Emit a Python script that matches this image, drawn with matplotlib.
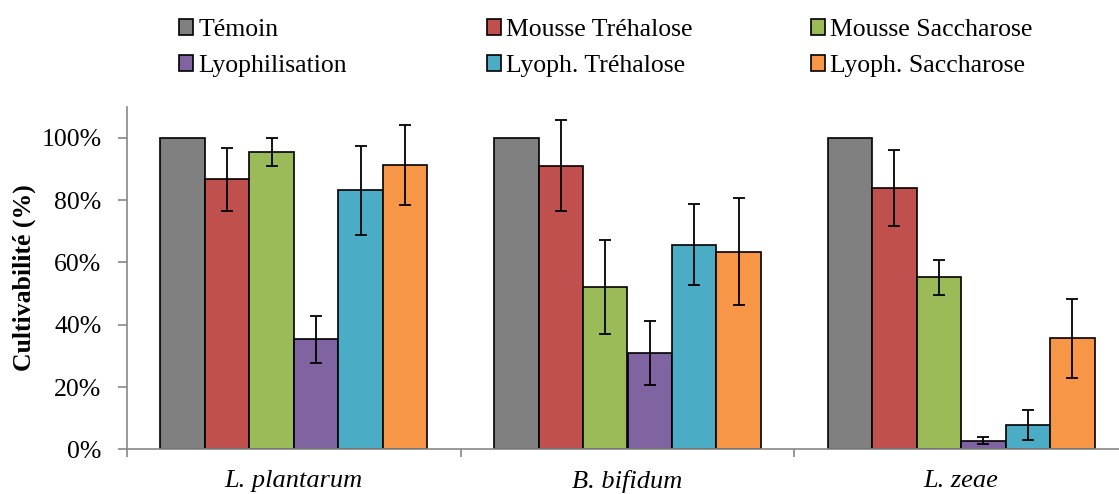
import matplotlib
matplotlib.use("Agg")
import matplotlib.pyplot as plt
import numpy as np
from matplotlib.patches import Patch
from matplotlib.ticker import PercentFormatter, FixedLocator

plt.rcParams['font.family'] = ['Liberation Serif', 'DejaVu Serif']

categories = ["L. plantarum", "B. bifidum", "L. zeae"]
series = ["Témoin", "Mousse Tréhalose", "Mousse Saccharose",
          "Lyophilisation", "Lyoph. Tréhalose", "Lyoph. Saccharose"]
colors = ["#808080", "#C0504D", "#9BBB59", "#8064A2", "#4BACC6", "#F79646"]

temoin = [100, 100, 100]
mousse_treh = [86.7, 91.1, 83.8]
mousse_sacch = [95.4, 52.1, 55.2]
lyoph = [35.3, 30.9, 2.8]
lyoph_treh = [83.2, 65.6, 7.9]
lyoph_sacch = [91.3, 63.5, 35.6]

err_temoin = [0, 0, 0]
err_mousse_treh = [10.1, 14.6, 12.2]
err_mousse_sacch = [4.6, 15.0, 5.5]
err_lyoph = [7.6, 10.2, 1.0]
err_lyoph_treh = [14.3, 13.0, 4.8]
err_lyoph_sacch = [12.9, 17.2, 12.6]

values = [temoin, mousse_treh, mousse_sacch, lyoph, lyoph_treh, lyoph_sacch]
errors = [err_temoin, err_mousse_treh, err_mousse_sacch, err_lyoph,
          err_lyoph_treh, err_lyoph_sacch]

FS = 18.5

fig = plt.figure(figsize=(11.19, 4.94), dpi=100)
ax = fig.add_axes([127/1119, 44.7/494, 1001/1119, 342.6/494])

x = np.arange(len(categories))
n = len(series)
w = 0.8 / n
for i, (vals, errs, col, name) in enumerate(zip(values, errors, colors, series)):
    pos = x - 0.4 + w * (i + 0.5)
    ax.bar(pos, vals, width=w, color=col, edgecolor="black", linewidth=1.2,
           label=name, zorder=2)
    if any(e > 0 for e in errs):
        ax.errorbar(pos, vals, yerr=errs, fmt="none", ecolor="black",
                    elinewidth=1.3, capsize=4.5, capthick=1.3, zorder=3)

ax.set_xlim(-0.5, 2.5)
ax.set_ylim(0, 110)
ax.set_yticks([0, 20, 40, 60, 80, 100])
ax.yaxis.set_major_formatter(PercentFormatter(decimals=0))
ax.set_xticks(x)
ax.set_xticklabels(categories, fontstyle="italic", fontsize=19)
ax.xaxis.set_minor_locator(FixedLocator([-0.5, 0.5, 1.5, 2.5]))
ax.tick_params(axis="x", which="major", length=0, pad=15)
ax.tick_params(axis="x", which="minor", length=6, width=1.2, color="#888888", direction="out")
ax.tick_params(axis="y", length=6.5, width=1.2, color="#888888", pad=12, labelsize=FS)

for s in ["top", "right"]:
    ax.spines[s].set_visible(False)
for s in ["left", "bottom"]:
    ax.spines[s].set_color("#888888")
    ax.spines[s].set_linewidth(1.2)

ax.set_ylabel("Cultivabilité (%)", fontsize=FS, fontweight="bold")
ax.yaxis.set_label_coords(-0.091, 0.5)

# legend in three columns
col_x = [179/1119, 487/1119, 811/1119]
for c in range(3):
    idx = [c, c + 3]
    handles = [Patch(facecolor=colors[i], edgecolor="black", linewidth=1.2) for i in idx]
    labels = [series[i] for i in idx]
    fig.legend(handles, labels, loc="upper left", bbox_to_anchor=(col_x[c], 1 - 19/494),
               frameon=False, fontsize=FS, handlelength=0.55, handleheight=0.55,
               handletextpad=0.2, borderpad=0, borderaxespad=0, labelspacing=0.55)

fig.savefig("out.png", dpi=100)
